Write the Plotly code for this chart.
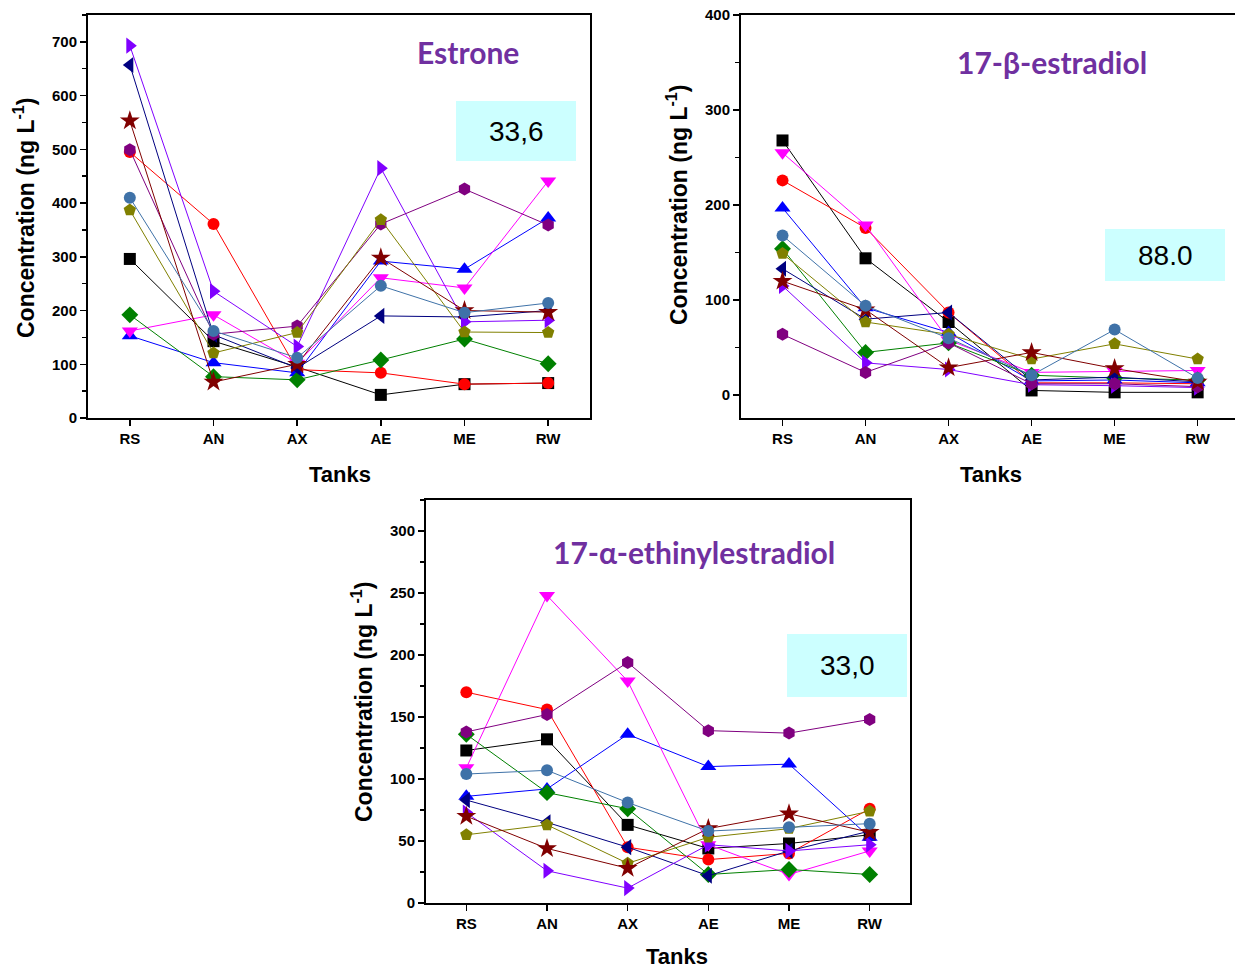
import plotly.graph_objects as go

W, H = 1235, 968
tanks = ["RS", "AN", "AX", "AE", "ME", "RW"]

series_colors = ["#000000", "#ff0000", "#0000ff", "#ff00ff", "#008000", "#000080",
                 "#8000ff", "#800080", "#808000", "#800000", "#3f72a8"]
series_symbols = ["square", "circle", "triangle-up", "triangle-down", "diamond",
                  "triangle-left", "triangle-right", "hexagon", "pentagon", "star", "circle"]
series_sizes = [12, 12, 14, 14, 13, 14, 14, 13, 13, 15, 12]

estrone = [
    [296, 143, 95, 43, 63, 65],
    [495, 361, 90, 84, 63, 65],
    [153, 103, 84, 292, 277, 372],
    [162, 192, 102, 261, 242, 441],
    [192, 77, 71, 108, 147, 101],
    [657, 155, 93, 190, 188, 200],
    [693, 236, 133, 465, 179, 182],
    [499, 156, 171, 361, 426, 359],
    [387, 121, 159, 369, 160, 159],
    [553, 67, 100, 298, 200, 197],
    [410, 162, 112, 246, 196, 214],
]
estradiol = [
    [268, 144, 77, 5, 3, 3],
    [226, 176, 87, 13, 13, 12],
    [197, 92, 66, 15, 16, 13],
    [255, 179, 58, 24, 25, 26],
    [154, 45, 55, 21, 18, 16],
    [133, 80, 87, 16, 19, 14],
    [115, 34, 27, 11, 10, 8],
    [64, 24, 55, 12, 12, 9],
    [149, 77, 64, 38, 54, 38],
    [120, 90, 29, 45, 28, 14],
    [168, 94, 60, 21, 69, 18],
]
ethinyl = [
    [123, 132, 63, 44, 48, 55],
    [170, 156, 45, 35, 40, 76],
    [86, 92, 136, 110, 112, 53],
    [109, 248, 179, 47, 23, 42],
    [136, 89, 76, 23, 27, 23],
    [83, 65, 45, 22, 42, 58],
    [73, 26, 12, 47, 42, 47],
    [138, 152, 194, 139, 137, 148],
    [55, 63, 32, 53, 60, 74],
    [70, 44, 28, 60, 72, 57],
    [104, 107, 81, 58, 61, 64],
]

titles = ["Estrone", "17-β-estradiol", "17-α-ethinylestradiol"]
box_values = ["33,6", "88.0", "33,0"]


def px(x):
    return x / W


def py(y):
    return 1 - y / H


fig = go.Figure()

panels = [
    (estrone, "", (88, 590), (15, 418), [0, 750], 100, [-0.5, 5.5]),
    (estradiol, "2", (741, 1235), (15, 418), [-24, 400], 100, [-0.5, 5.45]),
    (ethinyl, "3", (426, 910), (500, 903), [0, 325], 50, [-0.5, 5.5]),
]

for data, ax, (x0, x1), (yt, yb), yr, dt, xr in panels:
    for vals, col, sym, sz in zip(data, series_colors, series_symbols, series_sizes):
        fig.add_trace(go.Scatter(
            x=list(range(len(tanks))), y=vals, mode="lines+markers",
            line=dict(color=col, width=1),
            marker=dict(symbol=sym, color=col, size=sz, line=dict(width=0)),
            xaxis="x" + ax, yaxis="y" + ax, showlegend=False, cliponaxis=False,
            hoverinfo="skip"))
    xa = dict(domain=[px(x0), px(x1)], anchor="y" + ax, range=xr, automargin=False,
              tickmode="array", tickvals=list(range(len(tanks))), ticktext=tanks,
              showgrid=False, zeroline=False, showline=True, linecolor="black",
              linewidth=2, mirror=True, ticks="outside", ticklen=6, tickwidth=1.5,
              tickcolor="black",
              tickfont=dict(family="Liberation Sans", size=15, color="black", weight="bold"))
    ya = dict(domain=[py(yb), py(yt)], anchor="x" + ax, range=yr, dtick=dt, tick0=0,
              automargin=False,
              showgrid=False, zeroline=False, showline=True, linecolor="black",
              linewidth=2, mirror=True, ticks="outside", ticklen=6, tickwidth=1.5,
              tickcolor="black",
              minor=dict(dtick=dt / 2, ticks="outside", ticklen=4, tickwidth=1.5,
                         tickcolor="black"),
              tickfont=dict(family="Liberation Sans", size=15, color="black", weight="bold"))
    fig.update_layout(**{"xaxis" + ax: xa, "yaxis" + ax: ya})

annotations = []
shapes = []

axis_title_font = dict(family="Liberation Sans", size=23, color="black", weight="bold")
ytitle = "Concentration (ng L<sup>-1</sup>)"
for (xx, yy) in [(24, 218), (677, 205), (362, 702)]:
    annotations.append(dict(x=px(xx), y=py(yy), xref="paper", yref="paper",
                            text=ytitle, textangle=-90, showarrow=False,
                            font=axis_title_font, xanchor="center", yanchor="middle"))
for (xx, yy) in [(340, 474), (991, 474), (677, 956)]:
    annotations.append(dict(x=px(xx), y=py(yy), xref="paper", yref="paper",
                            text="Tanks", showarrow=False,
                            font=dict(family="Liberation Sans", size=22, color="black",
                                      weight="bold"),
                            xanchor="center", yanchor="middle"))

title_font = dict(family="Lato", size=30, color="#7030a0", weight="bold")
for t, (xx, yy) in zip(titles, [(468, 52), (1052, 62), (694, 552)]):
    annotations.append(dict(x=px(xx), y=py(yy), xref="paper", yref="paper", text=t,
                            showarrow=False, font=title_font,
                            xanchor="center", yanchor="middle"))

boxes = [(456, 101, 576, 161), (1105, 229, 1225, 281), (787, 634, 907, 697)]
for v, (bx0, by0, bx1, by1) in zip(box_values, boxes):
    shapes.append(dict(type="rect", xref="paper", yref="paper",
                       x0=px(bx0), x1=px(bx1), y0=py(by1), y1=py(by0),
                       fillcolor="#ccffff", line=dict(width=0), layer="below"))
    annotations.append(dict(x=px((bx0 + bx1) / 2), y=py((by0 + by1) / 2), xref="paper",
                            yref="paper", text=v, showarrow=False,
                            font=dict(family="Liberation Sans", size=28, color="black"),
                            xanchor="center", yanchor="middle"))

fig.update_layout(width=W, height=H, autosize=False,
                  margin=dict(l=0, r=0, t=0, b=0, autoexpand=False),
                  paper_bgcolor="white", plot_bgcolor="rgba(0,0,0,0)",
                  hovermode=False,
                  annotations=annotations, shapes=shapes)

fig.write_html("out.html", config={"displayModeBar": False, "staticPlot": True},
               post_script="document.body.style.margin='0';"
                           "document.body.style.overflow='hidden';")
